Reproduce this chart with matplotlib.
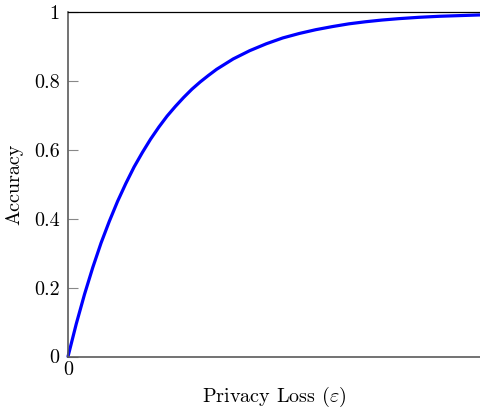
import numpy as np
import matplotlib.pyplot as plt

plt.rcParams['font.family'] = 'serif'
plt.rcParams['font.serif'] = ['cmr10', 'DejaVu Serif']
plt.rcParams['mathtext.fontset'] = 'cm'
plt.rcParams['axes.unicode_minus'] = False

# privacy loss (epsilon) and accuracy
epsilon = [0.0, 0.1, 0.2, 0.3, 0.4, 0.5, 0.6, 0.7, 0.8, 0.9, 1.0, 1.1, 1.2,
           1.3, 1.4, 1.5, 1.6, 1.7, 1.8, 1.9, 2.0, 2.2, 2.4, 2.6, 2.8, 3.0,
           3.2, 3.4, 3.6, 3.8, 4.0, 4.25, 4.5, 4.75, 5.0]
accuracy = [0.0, 0.095, 0.181, 0.259, 0.330, 0.393, 0.451, 0.503, 0.551,
            0.593, 0.632, 0.667, 0.699, 0.727, 0.753, 0.777, 0.798, 0.817,
            0.835, 0.850, 0.865, 0.889, 0.909, 0.926, 0.939, 0.950, 0.959,
            0.967, 0.973, 0.978, 0.982, 0.986, 0.989, 0.991, 0.993]

y_ticks = [0, 0.2, 0.4, 0.6, 0.8, 1]
y_tick_labels = ['0', '0.2', '0.4', '0.6', '0.8', '1']

fig = plt.figure(figsize=(4.81, 4.08), dpi=100)
ax = fig.add_axes([0.1414, 0.1262, 0.8586, 0.8432])

ax.plot(epsilon, accuracy, color='#0000ff', linewidth=2.3,
        solid_capstyle='round', solid_joinstyle='round', clip_on=False)

ax.set_xlim(0, 5)
ax.set_ylim(0, 1)
ax.set_xticks([0])
ax.set_xticklabels(['0'])
ax.set_yticks(y_ticks)
ax.set_yticklabels(y_tick_labels)

for s in ['left', 'bottom']:
    ax.spines[s].set_color('#5a5a5a')
    ax.spines[s].set_linewidth(1.2)
ax.spines['top'].set_color('black')
ax.spines['top'].set_linewidth(0.9)
ax.spines['right'].set_visible(False)

ax.tick_params(axis='y', direction='in', length=7, width=0.8, color='#888888', labelsize=14.5, pad=6)
ax.tick_params(axis='x', direction='in', length=0, labelsize=14.5, pad=3)

ax.set_xlabel(r'Privacy Loss ($\varepsilon$)', fontsize=14.5, va='center')
ax.xaxis.set_label_coords(0.5, -0.118)
ax.set_ylabel('Accuracy', fontsize=14.5, va='center')
ax.yaxis.set_label_coords(-0.131, 0.5)

fig.savefig('out.png', dpi=100)
